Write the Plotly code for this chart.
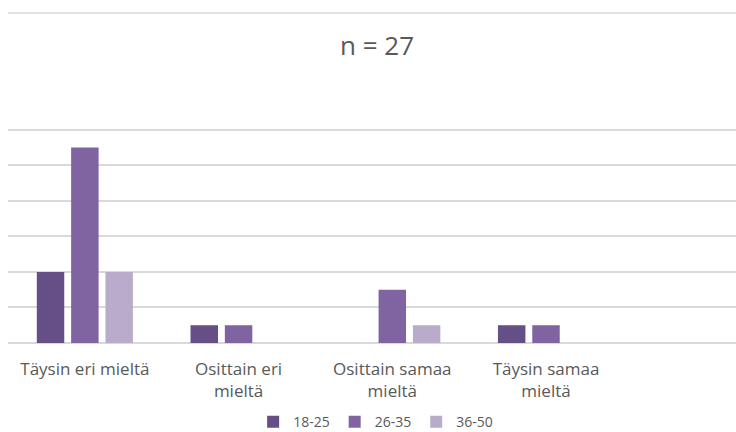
import plotly.graph_objects as go

# Survey answers by age group (n = 27)
categories = ["Täysin eri mieltä", "Osittain eri<br>mieltä",
              "Osittain samaa<br>mieltä", "Täysin samaa<br>mieltä"]
age_groups = ["18-25", "26-35", "36-50"]
counts_18_25 = [4, 1, 0, 1]
counts_26_35 = [11, 1, 3, 1]
counts_36_50 = [4, 0, 1, 0]
colors = ["#664E87", "#8064A2", "#B9ACCB"]

series = [counts_18_25, counts_26_35, counts_36_50]

fig = go.Figure()
for name, vals, col in zip(age_groups, series, colors):
    fig.add_trace(go.Bar(
        x=list(range(len(categories))), y=vals, name=name,
        marker=dict(color=col, line=dict(width=0)),
    ))

TEXT = "#595959"
FONT = "Open Sans"

fig.update_layout(
    width=736, height=432,
    margin=dict(l=8, r=0, t=128, b=89, autoexpand=False),
    paper_bgcolor="white", plot_bgcolor="white",
    barmode="group", bargap=0.33, bargroupgap=0.2,
    font=dict(family=FONT, color=TEXT, size=16),
    showlegend=True,
    legend=dict(orientation="h", x=0.505, xanchor="center",
                y=-0.368, yanchor="middle",
                font=dict(size=14, color=TEXT),
                itemwidth=30, tracegroupgap=0),
    xaxis=dict(range=[-0.5, 4.236], tickmode="array",
               tickvals=list(range(len(categories))), ticktext=categories,
               showgrid=False, zeroline=False, showline=False, ticks="",
               ticklabelstandoff=14, automargin=False,
               tickfont=dict(size=17, color=TEXT), fixedrange=True),
    yaxis=dict(range=[0, 12.1], dtick=2, showticklabels=False,
               showgrid=True, gridcolor="#D9D9D9", gridwidth=1.5,
               zeroline=True, zerolinecolor="#D9D9D9", zerolinewidth=1.5,
               showline=False, ticks="", automargin=False, fixedrange=True),
    annotations=[dict(text="n = 27", x=0.507, y=1.385, xref="paper", yref="paper",
                      xanchor="center", yanchor="middle", showarrow=False,
                      font=dict(size=26, color=TEXT, family=FONT))],
    shapes=[dict(type="line", xref="paper", yref="paper",
                 x0=0, x1=1, y0=1.535, y1=1.535,
                 line=dict(color="#D9D9D9", width=1.5))],
)

fig.write_html("out.html")
